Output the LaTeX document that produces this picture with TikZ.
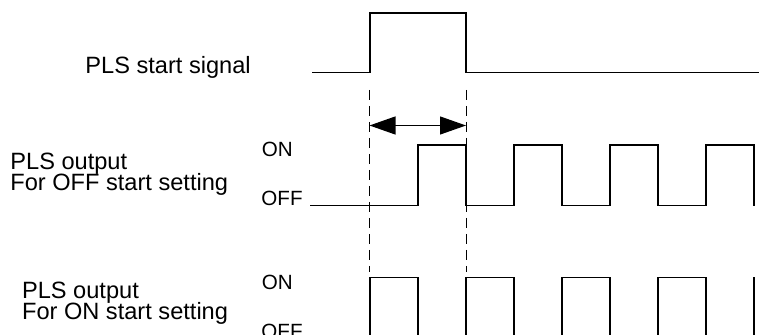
\documentclass[tikz,border=0pt]{standalone}
\usepackage{fontspec}
\setmainfont{Liberation Sans}
\usetikzlibrary{arrows.meta}

\begin{document}
\begin{tikzpicture}[x=0.5pt,y=-0.5pt,
  wave/.style={line width=0.8pt, line join=miter},
  guide/.style={line width=0.5pt, dash pattern=on 5pt off 3pt},
  lbl/.style={anchor=base west, inner sep=0pt, font=\fontsize{11.8}{14}\selectfont},
  lvl/.style={anchor=base west, inner sep=0pt, font=\fontsize{10.3}{12}\selectfont}]
\useasboundingbox (0,0) rectangle (759,335);
\clip (0,0) rectangle (759,335);
\def\sl{72.7} \def\sh{13.3}   % start signal levels
\def\al{205.7} \def\ah{145}   % OFF start output
\def\bl{338} \def\bh{277.5}   % ON start output
% start signal
\draw[wave] (312,\sl) -- (370,\sl) -- (370,\sh) -- (466,\sh) -- (466,\sl) -- (760,\sl);
\node[lbl] (sig) at (85,73.3) {PLS start signal};
% guides and width arrow
\draw[guide] (369.5,90) -- (369.5,272);
\draw[guide] (466,90) -- (466,272);
\draw[{Triangle[length=13pt,width=9pt]}-{Triangle[length=13pt,width=9pt]}, line width=0.6pt]
  (369.5,125.5) -- (466,125.5);
% output, OFF start
\draw[wave] (310,\al) foreach \x in {418,514,610,706}{
  -- (\x,\al) -- (\x,\ah) -- (\x+48,\ah) -- (\x+48,\al)};
\node[lbl] (offa) at (10,169.3) {PLS output};
\node[lbl] (offb) at (10,191) {For OFF start setting};
\node[lvl] (on1) at (261.5,157) {ON};
\node[lvl] (off1) at (261,205.5) {OFF};
% output, ON start
\foreach \x in {370,466,562,658}{
  \draw[wave] (\x,\bl) -- (\x,\bh) -- (\x+48,\bh) -- (\x+48,\bl);
}
\draw[wave] (754,\bl) -- (754,\bh);
\node[lbl] (ona) at (21.7,298.3) {PLS output};
\node[lbl] (onb) at (21.7,320) {For ON start setting};
\node[lvl] (on2) at (261.5,290) {ON};
\node[lvl] (off2) at (261,338.7) {OFF};
\end{tikzpicture}
\end{document}
